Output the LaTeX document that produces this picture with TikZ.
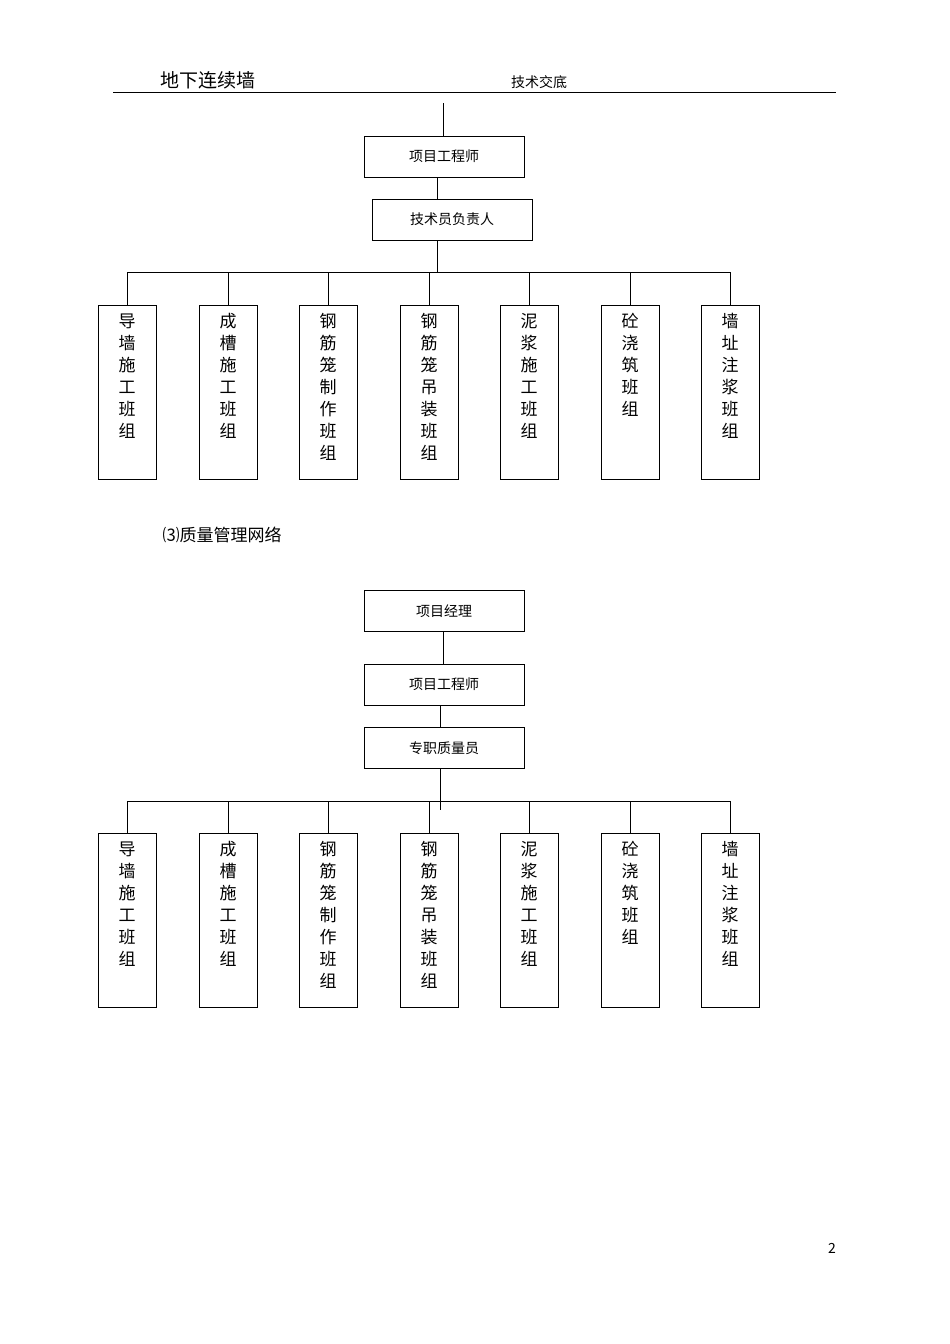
\documentclass[tikz,border=0pt]{standalone}
\usepackage{fontspec}
\setmainfont{Noto Sans CJK SC}
\begin{document}
\begin{tikzpicture}[x=1pt,y=-1pt,line width=0.9pt,
  hbox/.style={draw,minimum width=160pt,minimum height=41pt,font=\fontsize{14}{16}\selectfont},
  vbox/.style={draw,minimum width=58pt,minimum height=174pt},
  vtxt/.style={align=center,font=\fontsize{17}{22}\selectfont,anchor=north,inner sep=0pt}]
\useasboundingbox (0,0) rectangle (950,1344);
\node (h1) at (208,80) {\fontsize{19}{20}\selectfont 地下连续墙};
\node (h2) at (539,82) {\fontsize{14}{16}\selectfont 技术交底};
\draw (113,92) -- (836,92);
\node (pn) at (832,1248) {\fontsize{14}{16}\selectfont 2};
% chart 1
\coordinate (t0) at (443,103);
\node[hbox] (a1) at (444,156.5) {项目工程师};
\node[hbox] (a2) at (452,219.5) {技术员负责人};
\draw (t0) -- (a1.north -| t0);
\draw (437,177) -- (437,199);
\draw (437,240) -- (437,272);
\draw (127,272) -- (730,272);
\node (sec) at (222,535) {\fontsize{17}{20}\selectfont ⑶质量管理网络};
% chart 2
\node[hbox] (b1) at (444,611) {项目经理};
\node[hbox] (b2) at (444,684.5) {项目工程师};
\node[hbox] (b3) at (444,748) {专职质量员};
\draw (443,632) -- (443,664);
\draw (440,705) -- (440,727);
\draw (440,769) -- (440,810);
\draw (127,801) -- (730,801);
\foreach \yt/\yh/\p in {305/272/c,833/801/d}{
 \foreach \x/\t [count=\i] in {127/{导\\墙\\施\\工\\班\\组},228/{成\\槽\\施\\工\\班\\组},328/{钢\\筋\\笼\\制\\作\\班\\组},429/{钢\\筋\\笼\\吊\\装\\班\\组},529/{泥\\浆\\施\\工\\班\\组},630/{砼\\浇\\筑\\班\\组},730/{墙\\址\\注\\浆\\班\\组}}{
  \node[vbox,anchor=north] (\p\i) at (\x,\yt) {};
  \node[vtxt] (\p t\i) at (\x,\yt+8) {\t};
  \draw (\x,\yh) -- (\p\i.north);
 }}
\end{tikzpicture}
\end{document}
